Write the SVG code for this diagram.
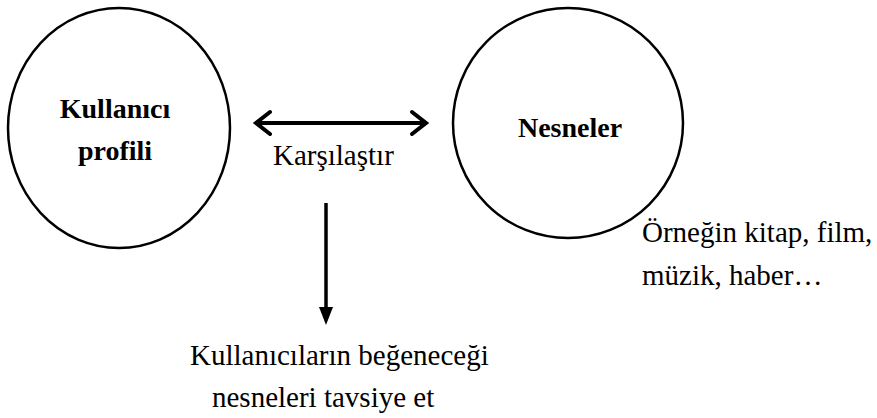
<svg xmlns="http://www.w3.org/2000/svg" width="877" height="418" viewBox="0 0 877 418">
<style>
.node{fill:none;stroke:#000;stroke-width:2.5}
text{font-family:'Liberation Serif',Tinos,'Times New Roman','DejaVu Serif',serif;font-size:29px;fill:#000}
.b{font-weight:bold;font-size:28px}
.c{fill:none;stroke:#000;stroke-width:4}
.h{fill:none;stroke:#000;stroke-width:4;stroke-linecap:round;stroke-linejoin:miter}
</style>
<rect width="877" height="418" fill="#fff"/>
<g id="kullanici-profili">
<ellipse class="node" cx="119" cy="128" rx="111" ry="120"/>
<text class="b" x="115" y="118" text-anchor="middle" font-family="Liberation Serif, serif">Kullanıcı</text>
<text class="b" x="115" y="160" text-anchor="middle" font-family="Liberation Serif, serif">profili</text>
</g>
<g id="nesneler">
<ellipse class="node" cx="568" cy="123" rx="115" ry="115"/>
<text class="b" x="570" y="137" text-anchor="middle" font-family="Liberation Serif, serif">Nesneler</text>
</g>
<g id="karsilastir">
<text x="273" y="165" font-size="30" font-family="Liberation Serif, serif">Karşılaştır</text>
</g>
<g id="ornek">
<text x="642" y="242" font-family="Liberation Serif, serif">Örneğin kitap, film,</text>
<text x="642" y="285" font-family="Liberation Serif, serif">müzik, haber…</text>
</g>
<g id="tavsiye">
<text x="190" y="365" font-family="Liberation Serif, serif">Kullanıcıların beğeneceği</text>
<text x="212" y="407" font-family="Liberation Serif, serif">nesneleri tavsiye et</text>
</g>
<g id="connectors">
<line class="c" x1="257" y1="123" x2="425" y2="123"/>
<polyline class="h" points="270,112 256,123 270,134"/>
<polyline class="h" points="412,112 426,123 412,134"/>
<line x1="326" y1="203" x2="326" y2="312" stroke="#000" stroke-width="3.5"/>
<polygon points="319,307 333,307 326,325" fill="#000"/>
</g>
</svg>
